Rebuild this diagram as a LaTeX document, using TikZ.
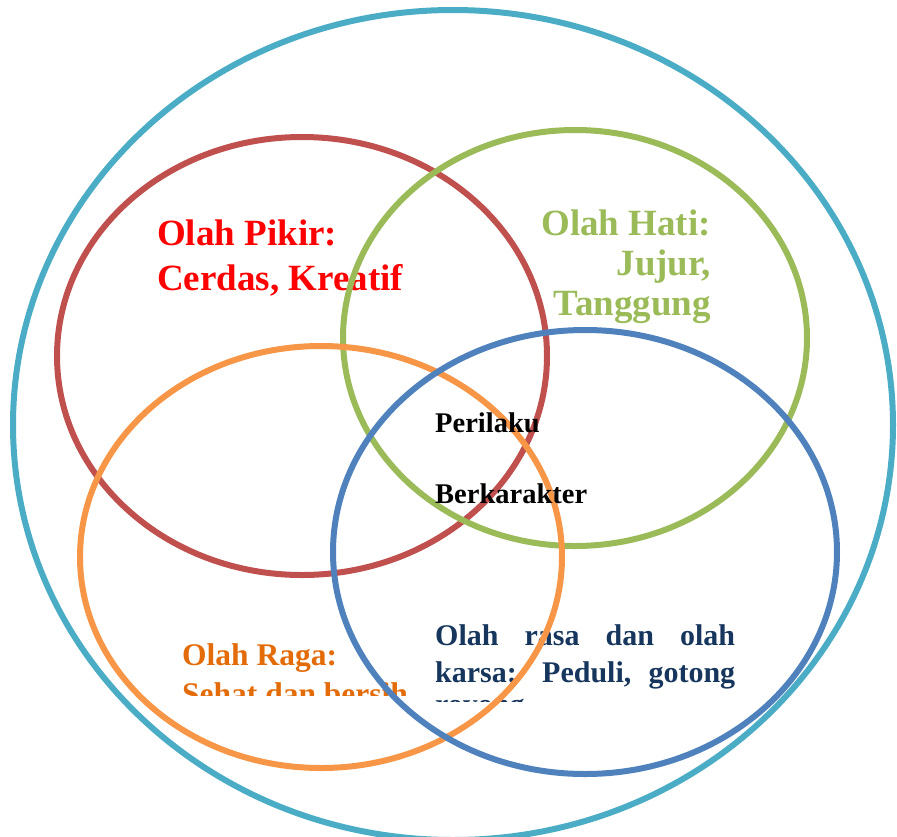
\documentclass[tikz,border=0pt]{standalone}
\usepackage{fontspec}
\setmainfont{Liberation Serif}
\definecolor{cyanring}{HTML}{4BACC6}
\definecolor{redring}{HTML}{C0504D}
\definecolor{greenring}{HTML}{9BBB59}
\definecolor{orangering}{HTML}{F79646}
\definecolor{bluering}{HTML}{4F81BD}
\definecolor{redtext}{HTML}{FF0000}
\definecolor{orangetext}{HTML}{E36C09}
\definecolor{bluetext}{HTML}{17365D}
\begin{document}
\begin{tikzpicture}[x=1pt,y=-1pt,
  ring/.style={line width=6pt},
  lbl/.style={inner sep=0pt, anchor=base west, font=\bfseries\fontsize{#1}{#1}\selectfont},
  lbl/.default=37]
\useasboundingbox (0,0) rectangle (897,836);
% outer
\draw[ring, cyanring] (453,425) ellipse [x radius=440, y radius=415];
% red
\draw[ring, redring] (302,356) ellipse [x radius=245, y radius=219];
\node[lbl, text=redtext] (pikirA) at (157,245) {Olah Pikir:};
\node[lbl, text=redtext] (pikirB) at (157,290) {Cerdas, Kreatif};
% green text then ring
\node[lbl, anchor=base east, text=greenring] (hatiA) at (711,235) {Olah Hati:};
\node[lbl, anchor=base east, text=greenring] (hatiB) at (711,275) {Jujur,};
\node[lbl, anchor=base east, text=greenring] (hatiC) at (711,315) {Tanggung};
\draw[ring, greenring] (575,338) ellipse [x radius=232, y radius=208];
% blue text
\node[lbl=30, text=bluetext] (rasaA) at (435,645) {\makebox[300pt][s]{Olah rasa dan olah}};
\node[lbl=30, text=bluetext] (rasaB) at (435,682) {\makebox[300pt][s]{karsa: Peduli, gotong}};
\begin{scope}
\clip (0,0) rectangle (897,701);
\node[lbl=30, text=bluetext] (rasaC) at (435,714) {royong};
\end{scope}
% orange ring and text
\draw[ring, orangering] (321,557) ellipse [x radius=241, y radius=211];
\node[lbl=31.5, text=orangetext] (ragaA) at (182,665) {Olah Raga:};
\begin{scope}
\clip (0,0) rectangle (897,695);
\node[lbl=31.5, text=orangetext] (ragaB) at (182,704) {Sehat dan bersih};
\end{scope}
% blue ring
\draw[ring, bluering] (585,552) ellipse [x radius=252, y radius=222];
% center
\node[lbl=28.5, text=black] (perA) at (435,432) {Perilaku};
\node[lbl=28.5, text=black] (perB) at (435,503) {Berkarakter};
\end{tikzpicture}
\end{document}
